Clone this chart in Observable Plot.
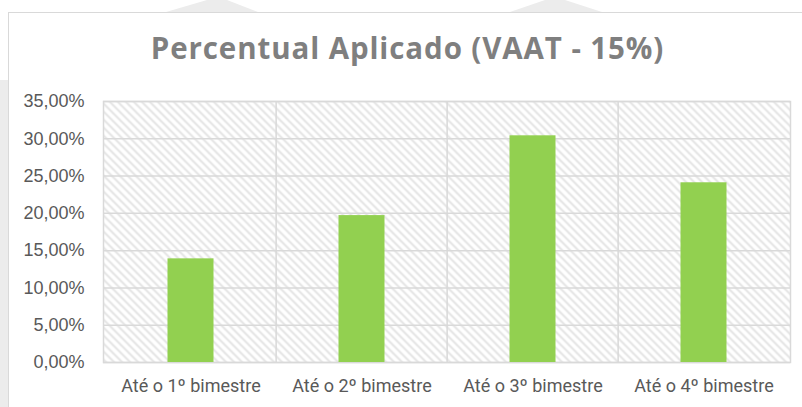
<!DOCTYPE html>
<html>
<head>
<meta charset="utf-8">
<script src="https://cdn.jsdelivr.net/npm/d3@7"></script>
<script src="https://cdn.jsdelivr.net/npm/@observablehq/plot@0.6"></script>
<style>
  html, body { margin: 0; padding: 0; background: #ffffff; }
  body { width: 802px; height: 407px; position: relative; overflow: hidden; }
  #bg { position: absolute; left: 0; top: 0; }
  #box { position: absolute; left: 8px; top: 12px; width: 830px; height: 430px;
         border: 1.5px solid #d9d9d9; background: #ffffff; box-sizing: border-box; }
  #title { position: absolute; left: 0; width: 815px; top: 33px; text-align: center;
           font-family: "Open Sans", sans-serif; font-weight: 700; font-size: 29.5px;
           letter-spacing: 0.9px; line-height: 29.5px; color: #7f7f7f; white-space: nowrap; }
  #chart { position: absolute; left: 0; top: 80px; }
</style>
</head>
<body>
<svg id="bg" width="802" height="407">
  <rect x="0" y="80" width="8" height="327" fill="#ececec"></rect>
  <polygon points="207,0 227,0 258,12 166,12" fill="#ececec"></polygon>
  <polygon points="545,0 565,0 602,12 510,12" fill="#ececec"></polygon>
</svg>
<div id="box"></div>
<div id="title">Percentual Aplicado (VAAT - 15%)</div>
<div id="chart"></div>
<script>
const categories = ["Até o 1º bimestre", "Até o 2º bimestre", "Até o 3º bimestre", "Até o 4º bimestre"];
const values = [13.9, 19.7, 30.4, 24.1];
const yTicks = [0, 5, 10, 15, 20, 25, 30, 35];

const rows = categories.map((c, i) => ({categoria: c, valor: values[i]}));

const W = 802, H = 327, ML = 103, MR = 12, MT = 21, MB = 45;
const step = (W - ML - MR) / categories.length;
const fmt = d => d.toFixed(2).replace(".", ",") + "%";

const plot = Plot.plot({
  width: W, height: H,
  marginTop: MT, marginBottom: MB, marginLeft: ML, marginRight: MR,
  style: {background: "transparent", overflow: "visible"},
  x: {domain: categories, padding: 0, label: null, tickSize: 0, tickPadding: 17},
  y: {domain: [0, 35], ticks: yTicks, tickFormat: fmt, label: null, tickSize: 0, tickPadding: 19},
  marks: [
    Plot.frame({fill: "url(#hatch)", stroke: "none"}),
    Plot.ruleY(yTicks, {stroke: "#d9d9d9", strokeWidth: 1.5}),
    Plot.ruleX(categories.slice(1), {x: d => d, dx: -step / 2, stroke: "#d9d9d9", strokeWidth: 1.5}),
    Plot.frame({stroke: "#d9d9d9", strokeWidth: 1.5}),
    Plot.barY(rows, {x: "categoria", y: "valor", fill: "#92D050", insetLeft: 62.5, insetRight: 62.5})
  ]
});

const svg = d3.select(plot);
const defs = svg.insert("defs", ":first-child");
const pat = defs.append("pattern")
  .attr("id", "hatch").attr("patternUnits", "userSpaceOnUse")
  .attr("width", 8).attr("height", 8);
pat.append("rect").attr("width", 8).attr("height", 8).attr("fill", "#ffffff");
pat.append("path").attr("d", "M0,0L8,8M-4,4L4,12M4,-4L12,4")
  .attr("stroke", "#e4e4e4").attr("stroke-width", 2);

svg.selectAll('[aria-label^="x-axis"] text')
  .style("font-family", "Roboto, sans-serif").style("font-size", "18px").attr("fill", "#595959");
svg.selectAll('[aria-label^="y-axis"] text')
  .style("font-family", "'Liberation Sans', Arial, sans-serif").style("font-size", "18px").attr("fill", "#595959");

document.getElementById("chart").appendChild(plot);
</script>
</body>
</html>
